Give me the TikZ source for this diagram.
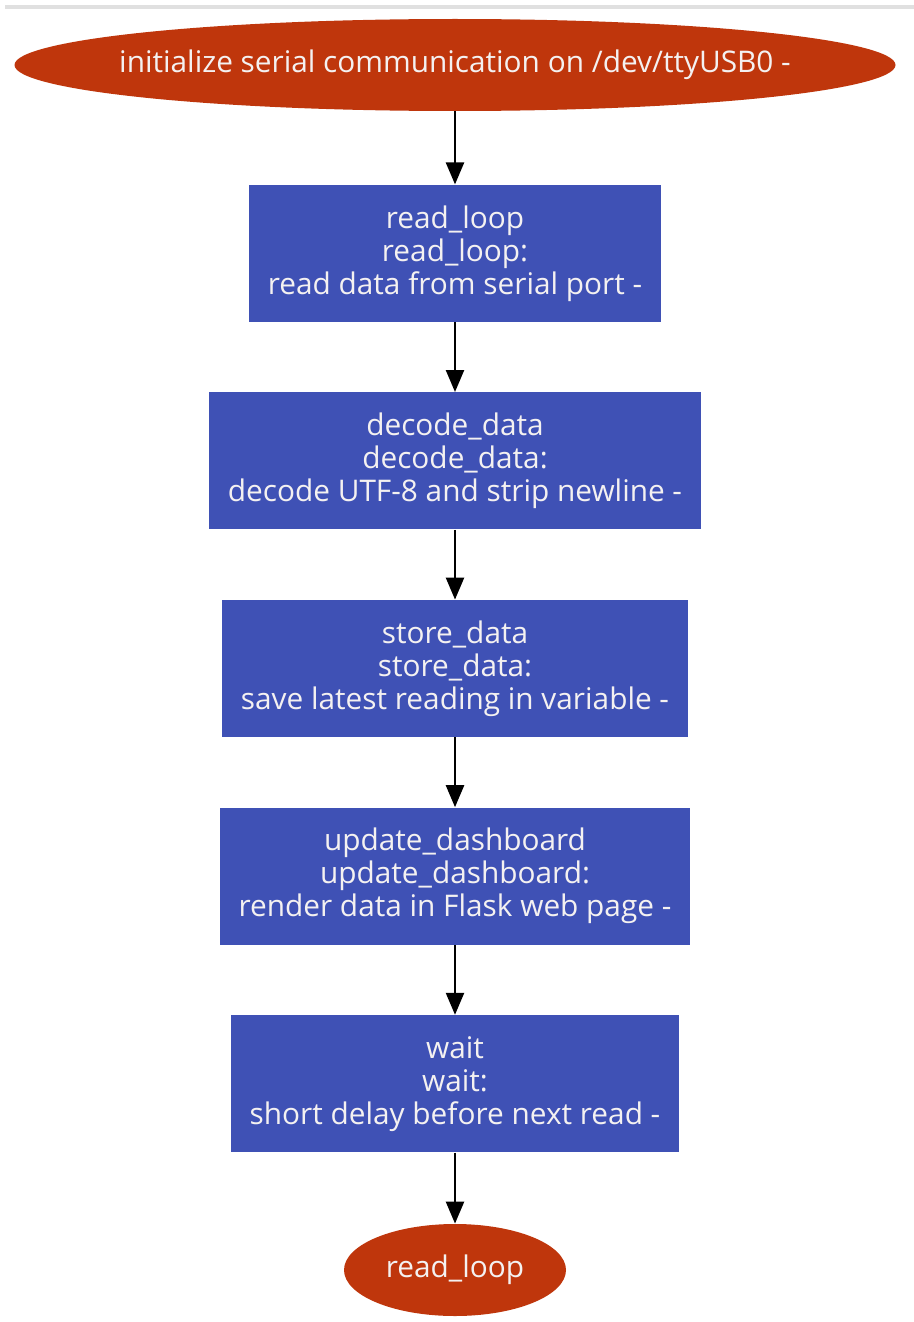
\documentclass[tikz,border=0pt]{standalone}
\usepackage{fontspec}
\setmainfont{Open Sans}
\usepackage{xcolor}
\usepackage{tikz}
\usetikzlibrary{arrows.meta, positioning, shapes.geometric}

\definecolor{termred}{HTML}{BF360C}
\definecolor{stepblue}{HTML}{3F51B5}
\definecolor{txtwhite}{HTML}{F4F1F1}

\begin{document}
\begin{tikzpicture}[
    node distance=34.9pt,
    stepbox/.style={fill=stepblue, align=center, inner xsep=9.5pt, minimum height=68.5pt, text=txtwhite, font=\fontsize{14.9}{16.5}\selectfont},
    terminal/.style={ellipse, fill=termred, align=center, inner sep=0pt, minimum height=46pt, text=txtwhite, font=\fontsize{14.9}{16.5}\selectfont},
    flow/.style={-{Triangle[length=11pt, width=9pt]}, line width=1.2pt}
]
\useasboundingbox (0,0) rectangle (457pt,-661pt);
\fill[black!12] (2.5pt,-2.5pt) rectangle (457pt,-4.5pt);

\node[terminal, inner xsep=-13.5pt, minimum width=440.5pt] (init) at (227.5pt,-32.5pt) {initialize serial communication on /dev/ttyUSB0 -};
\node[stepbox, below=36.5pt of init] (readloop) {read\_loop\\read\_loop:\\read data from serial port -};
\node[stepbox, below=of readloop] (decode) {decode\_data\\decode\_data:\\decode UTF-8 and strip newline -};
\node[stepbox, below=of decode] (store) {store\_data\\store\_data:\\save latest reading in variable -};
\node[stepbox, below=of store] (dashboard) {update\_dashboard\\update\_dashboard:\\render data in Flask web page -};
\node[stepbox, below=of dashboard] (wait) {wait\\wait:\\short delay before next read -};
\node[terminal, minimum width=111pt, below=35.5pt of wait] (again) {read\_loop};

\draw[flow] (init) -- (readloop);
\draw[flow] (readloop) -- (decode);
\draw[flow] (decode) -- (store);
\draw[flow] (store) -- (dashboard);
\draw[flow] (dashboard) -- (wait);
\draw[flow] (wait) -- (again);
\end{tikzpicture}
\end{document}
